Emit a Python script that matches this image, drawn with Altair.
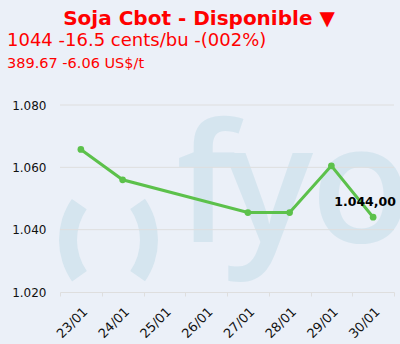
import altair as alt
import pandas as pd

days = ["23/01", "24/01", "25/01", "26/01", "27/01", "28/01", "29/01", "30/01"]
trade_days = ["23/01", "24/01", "27/01", "28/01", "29/01", "30/01"]
prices = [1065.75, 1056.0, 1045.5, 1045.5, 1060.5, 1044.0]
y_ticks = [1020, 1040, 1060, 1080]

title_text = "Soja Cbot - Disponible ▼"
line1_text = "1044 -16.5 cents/bu -(002%)"
line2_text = "389.67 -6.06 US$/t"
last_label = "1.044,00"

df = pd.DataFrame({"day": trade_days, "price": prices})
last_df = pd.DataFrame({"day": [trade_days[-1]], "price": [prices[-1]], "lbl": [last_label]})
grid_df = pd.DataFrame({"price": y_ticks[1:]})

BG = "#EBF0F8"
WM = "#D5E5EF"
GREEN = "#5CC14B"
RED = "#FF0000"
GRID = "#DEDEDE"

y_scale = alt.Scale(domain=[1020, 1080], nice=False, zero=False)
y_axis = alt.Axis(title=None, values=y_ticks, labelFontSize=12, labelColor="#111",
                  labelFont="DejaVu Sans", ticks=False, domain=False, labelPadding=14,
                  grid=False,
                  labelExpr="replace(format(datum.value, ','), ',', '.')")

x_enc = alt.X("day:O", scale=alt.Scale(type="band", domain=days, paddingInner=0, paddingOuter=0),
              axis=alt.Axis(title=None, labelAngle=-45, labelFontSize=13, labelColor="#111",
                            labelFont="DejaVu Sans", tickBand="extent", tickSize=4,
                            tickColor=GRID, domainColor=GRID, labelPadding=9,
                            grid=False))
y_enc = alt.Y("price:Q", scale=y_scale, axis=y_axis)

# watermark logo (decoration)
one = pd.DataFrame({"k": [0]})
paren_l = alt.Chart(one).mark_arc(color=WM).encode(
    x=alt.value(71), y=alt.value(135), theta=alt.value(4.10), theta2=alt.value(5.32),
    radius=alt.value(72), radius2=alt.value(54))
paren_r = alt.Chart(one).mark_arc(color=WM).encode(
    x=alt.value(26), y=alt.value(135), theta=alt.value(0.96), theta2=alt.value(2.18),
    radius=alt.value(72), radius2=alt.value(54))

def wm_letter(ch, xc):
    return alt.Chart(pd.DataFrame({"t": [ch]})).mark_text(
        font="Open Sans", fontWeight=600, fontSize=165, color=WM, align="center", baseline="alphabetic"
    ).encode(text="t:N", x=alt.value(xc), y=alt.value(137))

f_l = wm_letter("f", 146)
y_l = wm_letter("y", 209)
o_l = wm_letter("o", 301)

grid = alt.Chart(grid_df).mark_rule(color=GRID, strokeWidth=1).encode(
    y=alt.Y("price:Q", scale=y_scale, axis=y_axis))

line = alt.Chart(df).mark_line(color=GREEN, strokeWidth=3, point=alt.OverlayMarkDef(color=GREEN, size=45, filled=True, opacity=1)).encode(
    x=x_enc, y=y_enc)

lbl = alt.Chart(last_df).mark_text(font="DejaVu Sans", fontWeight="bold", fontSize=12.5, color="#000",
                                   dy=-15, dx=-8, align="center").encode(
    x=alt.X("day:O"), y=alt.Y("price:Q"), text="lbl:N")

title = alt.Chart(pd.DataFrame({"t": [title_text]})).mark_text(
    font="DejaVu Sans", fontWeight="bold", fontSize=20, color=RED, align="center", baseline="alphabetic"
).encode(text="t:N", x=alt.value(139), y=alt.value(-80))
l1 = alt.Chart(pd.DataFrame({"t": [line1_text]})).mark_text(
    font="DejaVu Sans", fontSize=18, color=RED, align="left", baseline="alphabetic"
).encode(text="t:N", x=alt.value(-53), y=alt.value(-59))
l2 = alt.Chart(pd.DataFrame({"t": [line2_text]})).mark_text(
    font="DejaVu Sans", fontSize=14.5, color=RED, align="left", baseline="alphabetic"
).encode(text="t:N", x=alt.value(-53), y=alt.value(-37))

chart = alt.layer(paren_l, paren_r, f_l, y_l, o_l, grid, line, lbl, title, l1, l2).properties(
    width=334, height=187,
    autosize=alt.AutoSizeParams(type="none"),
    padding={"left": 60, "top": 105, "right": 6, "bottom": 52},
    background=BG,
).configure_view(stroke=None)

chart.save("out.html", embed_options={"renderer": "svg", "actions": False})
